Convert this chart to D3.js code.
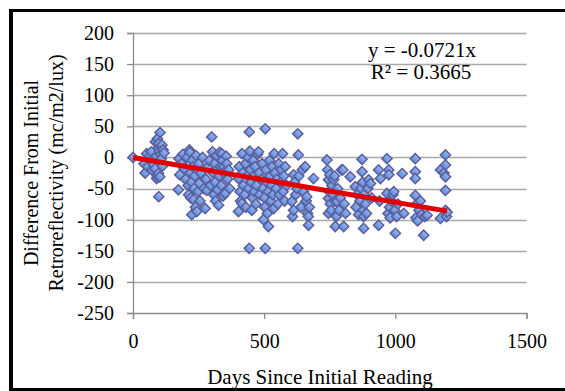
<!DOCTYPE html>
<html>
<head>
<meta charset="utf-8">
<script src="https://cdn.jsdelivr.net/npm/d3@7/dist/d3.min.js"></script>
<style>
  html, body { margin: 0; padding: 0; background: #fff; }
  svg { display: block; }
  text { font-family: "Liberation Serif", "Times New Roman", serif; fill: #000; }
</style>
</head>
<body>
<svg id="chart" width="565" height="391"></svg>
<script>
// Days since the first reading for each measurement
const days = [
  0,
  42, 46, 52, 55, 60, 65, 70, 72, 78, 84, 85, 88, 90, 92, 93, 95, 97, 97, 98, 100, 100, 102, 103, 105, 108, 110, 112, 115, 118,
  173, 175, 178, 185, 190, 195, 200, 205, 210, 212, 215, 217, 218, 220, 222, 224, 225, 228, 230, 232, 235, 238, 240, 243, 245, 248, 250, 252, 255, 258,
  265, 270, 275, 278, 281, 285, 290, 295, 300, 303, 305, 308, 310, 312, 315, 318, 320, 322, 326, 328, 330, 333, 336, 338, 340, 343, 345, 346, 351, 355, 357, 360, 365, 368,
  402, 402, 405, 408, 410, 415, 415, 418, 420, 425, 428, 430, 435, 438, 440, 443, 443, 445, 447, 450, 453, 455, 458, 460, 462, 465, 468, 470, 475, 478, 480, 482,
  490, 492, 495, 497, 500, 502, 504, 504, 506, 510, 512, 515, 516, 520, 522, 525, 528, 530, 533, 536, 538, 540, 545, 548, 552, 555, 558, 562, 565, 570, 572, 575, 578, 580, 585,
  605, 608, 612, 612, 615, 620, 625, 628, 628, 630, 632, 640, 645, 650, 656, 660, 662, 665, 668, 669, 672, 688,
  739, 742, 745, 745, 745, 748, 750, 752, 755, 758, 762, 765, 768, 770, 771, 775, 777, 780, 785, 790, 795, 800, 803, 805, 810,
  828, 847, 850, 855, 860, 865, 868, 873, 873, 875, 877, 879, 879, 880, 885, 890, 895, 898, 905, 910, 936, 936, 940, 943,
  968, 968, 972, 975, 975, 978, 980, 985, 990, 994, 998, 1000, 1005, 1010, 1026, 1032,
  1076, 1076, 1076, 1076, 1078, 1080, 1085, 1090, 1095, 1100, 1108, 1112, 1121,
  1172, 1172, 1185, 1191, 1191, 1191, 1191, 1191, 1195, 1197
];

// Change in retroreflectivity from the initial reading (mcd/m2/lux)
const diff = [
  0,
  -10, -25, 6, -15, 0, -5, 9, -20, -12, -18, 25, 2, -34, -30, 30, 15, 22, -26, -63, -8, 10, -31, 40, 5, -2, 20, -14, 12, 7,
  -52, -2, -28, -10, 5, -18, -35, 0, -45, -60, 12, 8, -25, -65, -40, -92, -5, -15, -68, -50, -30, -80, 3, -87, -20, -55, -10, -42, -70, -25,
  0, -50, -82, -35, -53, -15, -5, -45, 33, 9, -25, -60, -10, -40, -70, 3, -20, -52, -77, -30, 8, -15, -45, 6, -5, -62, -15, -25, -58, 2, -10, -35, -20, -50,
  -34, -87, -15, -55, -70, 6, -74, -25, -45, -60, -10, -80, -30, 0, -50, 41, -146, 10, -20, -40, -85, -65, -5, -30, -55, -15, -75, -45, 5, 9, -25, -60,
  -35, -10, -50, -100, -65, -80, 46, -146, -20, -40, -90, -55, -111, -5, -30, -70, -45, -15, -60, -82, 6, -25, -50, -35, -75, -10, -60, -40, -20, 6, -55, -30, -70, -15, -45,
  -71, -95, -28, -85, -40, -60, -50, 38, -146, 4, -30, -80, -20, -55, -15, -70, -63, -90, -95, -109, -80, -34,
  -4, -20, -36, -66, -90, -55, -28, -75, -85, -45, -60, -36, -30, -70, -111, -95, -71, -50, -85, -65, -20, -20, -111, -75, -90,
  -31, -47, -80, -60, -92, -70, -50, -3, -23, -40, -85, -95, -114, -60, -75, -90, -50, -36, -42, -65, -20, -109, -70, -34,
  -2, -58, -90, -20, -28, -80, -97, -70, -60, -55, -85, -122, -95, -75, -26, -90,
  -2, -23, -34, -61, -97, -75, -102, -85, -70, -92, -125, -95, -93,
  -20, -98, -25, 4, -12, -31, -53, -85, -95, -88
];

// Linear trend through the origin
const slope = -0.0721;
const r2 = 0.3665;

const xTicks = [0, 500, 1000, 1500];
const yTicks = [200, 150, 100, 50, 0, -50, -100, -150, -200, -250];

const serif = '"Liberation Serif", "Times New Roman", serif';
const svg = d3.select("#chart");
const x = d3.scaleLinear().domain([0, 1500]).range([133, 526.5]);
const y = d3.scaleLinear().domain([-250, 200]).range([313, 33]);

// Outer frame
const frame = svg.append("g").attr("stroke", "#000").attr("fill", "none");
frame.append("line").attr("x1", 11).attr("x2", 11).attr("y1", 9).attr("y2", 391).attr("stroke-width", 4);
frame.append("line").attr("x1", 9).attr("x2", 565).attr("y1", 10.5).attr("y2", 10.5).attr("stroke-width", 3);
frame.append("line").attr("x1", 9).attr("x2", 565).attr("y1", 389.5).attr("y2", 389.5).attr("stroke-width", 3);

// Horizontal gridlines
svg.append("g")
  .selectAll("line")
  .data(yTicks.filter(d => d !== -250))
  .join("line")
  .attr("x1", x(0)).attr("x2", x(1500))
  .attr("y1", d => Math.round(y(d)) + 0.5).attr("y2", d => Math.round(y(d)) + 0.5)
  .attr("stroke", "#a8a8a8").attr("stroke-width", 1.3);

// Axes (plain hyphen for negative numbers)
const fmt = d => String(d);
const yAxis = d3.axisLeft(y).tickValues(yTicks).tickSize(6).tickPadding(12).tickFormat(fmt);
const xAxis = d3.axisBottom(x).tickValues(xTicks).tickSize(6).tickPadding(15).tickFormat(fmt);

const gy = svg.append("g").attr("transform", `translate(${x(0)},0)`).call(yAxis);
const gx = svg.append("g").attr("transform", `translate(0,${y(-250)})`).call(xAxis);
[gx, gy].forEach(g => {
  g.attr("font-family", serif).attr("font-size", 20);
  g.selectAll("path.domain").attr("stroke", "#8c8c8c").attr("stroke-width", 1.3);
  g.selectAll(".tick line").attr("stroke", "#8c8c8c").attr("stroke-width", 1.3);
  g.selectAll(".tick text").attr("font-family", serif).attr("font-size", 20).attr("fill", "#000");
});
gy.selectAll(".tick text").attr("x", -19);

// Scatter points (diamonds)
const defs = svg.append("defs");
const grad = defs.append("linearGradient").attr("id", "ptFill").attr("x1", 0).attr("y1", 0).attr("x2", 0).attr("y2", 1);
grad.append("stop").attr("offset", "0%").attr("stop-color", "#94b8f0");
grad.append("stop").attr("offset", "100%").attr("stop-color", "#5f8bdb");

const diamond = d3.symbol().type(d3.symbolSquare).size(52);
svg.append("g")
  .selectAll("path")
  .data(days.map((d, i) => [d, diff[i]]))
  .join("path")
  .attr("d", diamond)
  .attr("transform", d => `translate(${x(d[0])},${y(d[1])}) rotate(45)`)
  .attr("fill", "url(#ptFill)")
  .attr("stroke", "#5c5e9c")
  .attr("stroke-width", 1.5);

// Trend line
const xMax = d3.max(days);
svg.append("line")
  .attr("x1", x(0)).attr("y1", y(0))
  .attr("x2", x(xMax)).attr("y2", y(slope * xMax))
  .attr("stroke", "#e00000").attr("stroke-width", 5);

// Trend equation
svg.append("text").attr("x", 422).attr("y", 57).attr("text-anchor", "middle").attr("font-size", 21)
  .text(`y = ${slope}x`);
svg.append("text").attr("x", 421).attr("y", 79).attr("text-anchor", "middle").attr("font-size", 21)
  .text(`R² = ${r2}`);

// Axis titles
svg.append("text").attr("x", 320).attr("y", 384).attr("text-anchor", "middle").attr("font-size", 21)
  .text("Days Since Initial Reading");
const yt = svg.append("g").attr("transform", "translate(0,173) rotate(-90)");
yt.append("text").attr("x", 0).attr("y", 31).attr("dy", "0.35em").attr("text-anchor", "middle").attr("font-size", 20)
  .text("Difference From Initial");
yt.append("text").attr("x", 0).attr("y", 56).attr("dy", "0.35em").attr("text-anchor", "middle").attr("font-size", 20)
  .text("Retroreflectivity (mc/m2/lux)");
</script>
</body>
</html>
